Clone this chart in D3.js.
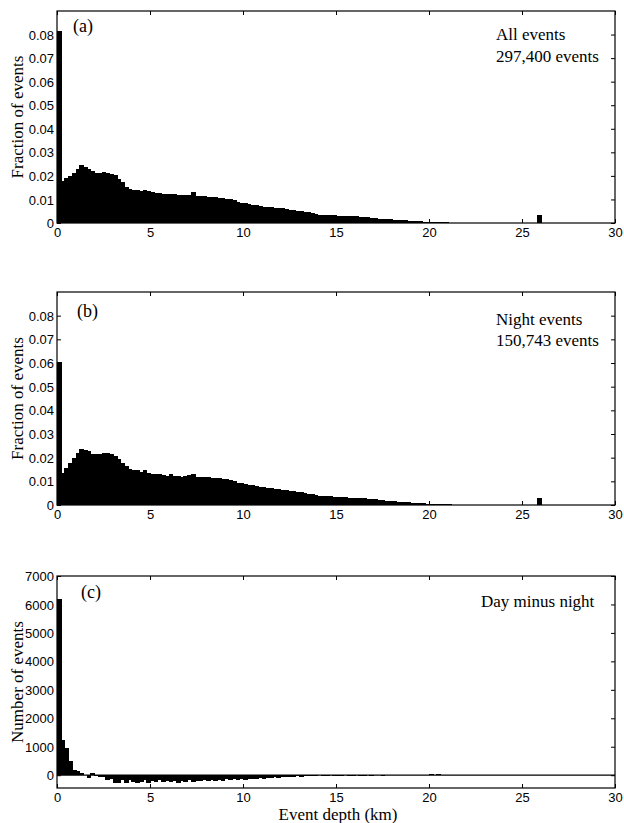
<!DOCTYPE html>
<html>
<head>
<meta charset="utf-8">
<script src="https://cdn.jsdelivr.net/npm/d3@7"></script>
<style>
	body { margin: 0; background: #fff; }
	svg { display: block; }
	.tick text { font-family: "Liberation Sans", Arial, sans-serif; font-size: 13px; fill: #000; }
	.serif { font-family: "Liberation Serif", "Times New Roman", serif; fill: #000; }
</style>
</head>
<body>
<svg id="chart" width="624" height="823"></svg>
<script>
// bin width of the depth histograms (km)
const binWidth = 0.2;

const depthTicks = [0, 5, 10, 15, 20, 25, 30];
const fracTicks = [0, 0.01, 0.02, 0.03, 0.04, 0.05, 0.06, 0.07, 0.08];
const countTicks = [0, 1000, 2000, 3000, 4000, 5000, 6000, 7000];

// (a) all events, fraction per 0.2 km bin
const allFrac = [
	0.0815, 0.0179, 0.0193, 0.0200, 0.0214, 0.0229, 0.0246, 0.0238, 0.0229, 0.0221,
	0.0214, 0.0213, 0.0217, 0.0214, 0.0207, 0.0203, 0.0186, 0.0174, 0.0154, 0.0143,
	0.0139, 0.0139, 0.0136, 0.0141, 0.0134, 0.0130, 0.0129, 0.0126, 0.0124, 0.0122,
	0.0121, 0.0121, 0.0120, 0.0119, 0.0118, 0.0118, 0.0131, 0.0114, 0.0113, 0.0113,
	0.0112, 0.0111, 0.0110, 0.0108, 0.0106, 0.0104, 0.0100, 0.0096, 0.0090, 0.0086,
	0.0084, 0.0080, 0.0078, 0.0077, 0.0074, 0.0070, 0.0068, 0.0067, 0.0065, 0.0063,
	0.0062, 0.0060, 0.0057, 0.0055, 0.0053, 0.0050, 0.0047, 0.0045, 0.0043, 0.0040,
	0.0036, 0.0034, 0.0033, 0.0033, 0.0032, 0.0031, 0.0031, 0.0030, 0.0029, 0.0029,
	0.0028, 0.0027, 0.0026, 0.0024, 0.0022, 0.0020, 0.0018, 0.0017, 0.0016, 0.0015,
	0.0014, 0.0013, 0.0012, 0.0011, 0.0010, 0.0009, 0.0008, 0.0007, 0.0006, 0.0005,
	0.0005, 0.0004, 0.0004, 0.0003, 0.0003, 0.0002, 0.0002, 0.0002, 0.0002, 0.0001,
	0.0001, 0.0001, 0.0001, 0.0001, 0.0001, 0.0001, 0.0001, 0.0001, 0.0001, 0.0001,
	0.0001, 0.0001, 0.0001, 0.0001, 0, 0, 0, 0, 0, 0.0032,
	0, 0, 0, 0, 0, 0, 0, 0, 0, 0,
	0, 0, 0, 0, 0, 0, 0, 0, 0, 0
];

// (b) night events
const nightFrac = [
	0.0603, 0.0136, 0.0157, 0.0179, 0.0200, 0.0221, 0.0236, 0.0231, 0.0229, 0.0214,
	0.0214, 0.0217, 0.0221, 0.0221, 0.0214, 0.0207, 0.0193, 0.0179, 0.0164, 0.0153,
	0.0146, 0.0146, 0.0140, 0.0146, 0.0136, 0.0133, 0.0131, 0.0129, 0.0128, 0.0124,
	0.0129, 0.0122, 0.0121, 0.0120, 0.0121, 0.0126, 0.0131, 0.0119, 0.0118, 0.0117,
	0.0117, 0.0116, 0.0115, 0.0113, 0.0111, 0.0108, 0.0104, 0.0100, 0.0095, 0.0092,
	0.0089, 0.0086, 0.0084, 0.0081, 0.0078, 0.0075, 0.0073, 0.0071, 0.0069, 0.0066,
	0.0064, 0.0062, 0.0060, 0.0058, 0.0056, 0.0053, 0.0050, 0.0048, 0.0046, 0.0043,
	0.0040, 0.0038, 0.0037, 0.0036, 0.0035, 0.0034, 0.0033, 0.0032, 0.0031, 0.0031,
	0.0030, 0.0029, 0.0028, 0.0026, 0.0025, 0.0024, 0.0022, 0.0020, 0.0018, 0.0017,
	0.0015, 0.0014, 0.0013, 0.0012, 0.0011, 0.0010, 0.0009, 0.0008, 0.0007, 0.0006,
	0.0005, 0.0005, 0.0004, 0.0004, 0.0003, 0.0003, 0.0002, 0.0002, 0.0002, 0.0001,
	0.0001, 0.0001, 0.0001, 0.0001, 0.0001, 0.0001, 0.0001, 0.0001, 0.0001, 0.0001,
	0.0001, 0.0001, 0.0001, 0.0001, 0, 0, 0, 0, 0, 0.0030,
	0, 0, 0, 0, 0, 0, 0, 0, 0, 0,
	0, 0, 0, 0, 0, 0, 0, 0, 0, 0
];

// (c) day minus night, number of events
const dayMinusNight = [
	6200, 1230, 940, 500, 180, 140, 60, 20, -110, 80,
	-20, -60, -80, -170, -120, -280, -260, -180, -270, -180,
	-240, -290, -230, -180, -260, -200, -230, -170, -250, -190,
	-240, -200, -260, -190, -230, -180, -250, -200, -220, -180,
	-210, -170, -200, -160, -190, -150, -180, -140, -170, -130,
	-180, -140, -120, -150, -110, -130, -90, -110, -80, -100,
	-70, -60, -50, -70, -40, -50, -30, -40, -20, -30,
	-10, -20, -30, -10, -20, -30, -20, -10, -30, -20,
	-10, -20, -40, -10, -20, -10, 0, -20, -10, 0,
	-10, 10, 0, -10, 0, 10, 0, 10, 20, 20,
	30, 20, 30, 20, 10, 10, 10, 0, 10, 0,
	0, 0, 0, 0, 0, 0, 0, 0, 0, 0,
	0, 0, 0, 0, 0, 0, 0, 0, 0, 0,
	0, 0, 0, 0, 0, 0, 0, 0, 0, 0,
	0, 0, 0, 0, 0, 0, 0, 0, 0, 0
];

const panels = [
	{values: allFrac, domain: [0, 0.09], ticks: fracTicks, top: 11, bottom: 223,
		ylabel: "Fraction of events", tag: "(a)", tagPos: [73, 32],
		notes: ["All events", "297,400 events"], notePos: [496, 40], noteGap: 22},
	{values: nightFrac, domain: [0, 0.09], ticks: fracTicks, top: 292, bottom: 505,
		ylabel: "Fraction of events", tag: "(b)", tagPos: [77, 317],
		notes: ["Night events", "150,743 events"], notePos: [496, 325], noteGap: 21},
	{values: dayMinusNight, domain: [-450, 7000], ticks: countTicks, top: 576, bottom: 788,
		ylabel: "Number of events", tag: "(c)", tagPos: [81, 598],
		notes: ["Day minus night"], notePos: [481, 607], noteGap: 0}
];

let svg = d3.select("#chart");
let left = 57, right = 615;

let scaleX = d3.scaleLinear().domain([0, 30]).range([left, right]);
let binPx = scaleX(binWidth) - scaleX(0);

panels.forEach(function(p){
	let scaleY = d3.scaleLinear().domain(p.domain).range([p.bottom, p.top]);
	let g = svg.append("g");

	let bins = p.values.map((v, i) => ({depth: i * binWidth, value: v}));

	g.selectAll("rect.bar")
		.data(bins)
		.join("rect")
		.attr("class", "bar")
		.attr("x", d => scaleX(d.depth))
		.attr("width", binPx + 1)
		.attr("y", d => scaleY(Math.max(d.value, 0)))
		.attr("height", d => Math.abs(scaleY(d.value) - scaleY(0)))
		.attr("fill", "#000")
		.attr("shape-rendering", "crispEdges");

	if (p.domain[0] < 0){
		g.append("line")
			.attr("x1", left).attr("x2", right)
			.attr("y1", scaleY(0)).attr("y2", scaleY(0))
			.attr("stroke", "#000").attr("stroke-width", 1.2);
	}

	// axes, ticks pointing inward like matlab
	let fmt = p.domain[1] < 1 ? (d => d === 0 ? "0" : d3.format(".2f")(d)) : d3.format("d");

	let axL = g.append("g").attr("transform", "translate(" + left + ",0)")
		.call(d3.axisLeft(scaleY).tickValues(p.ticks).tickSize(-4).tickPadding(3).tickFormat(fmt));
	let axR = g.append("g").attr("transform", "translate(" + right + ",0)")
		.call(d3.axisRight(scaleY).tickValues(p.ticks).tickSize(-4).tickFormat(""));
	let axB = g.append("g").attr("transform", "translate(0," + p.bottom + ")")
		.call(d3.axisBottom(scaleX).tickValues(depthTicks).tickSize(-4).tickPadding(5));
	let axT = g.append("g").attr("transform", "translate(0," + p.top + ")")
		.call(d3.axisTop(scaleX).tickValues(depthTicks).tickSize(-4).tickFormat(""));

	[axL, axR, axB, axT].forEach(a => {
		a.select(".domain").remove();
		a.selectAll(".tick line").attr("stroke", "#000");
	});
	axL.selectAll(".tick text").attr("dy", "0.35em");

	g.append("rect")
		.attr("x", left).attr("y", p.top)
		.attr("width", right - left).attr("height", p.bottom - p.top)
		.attr("fill", "none").attr("stroke", "#000").attr("stroke-width", 1.2);

	g.append("text")
		.attr("class", "serif")
		.attr("transform", "translate(17," + (p.top + p.bottom) / 2 + ") rotate(-90)")
		.attr("text-anchor", "middle")
		.attr("dy", "0.35em")
		.style("font-size", "17px")
		.text(p.ylabel);

	g.append("text")
		.attr("class", "serif")
		.attr("x", p.tagPos[0]).attr("y", p.tagPos[1])
		.style("font-size", "18px")
		.text(p.tag);

	g.selectAll("text.note")
		.data(p.notes)
		.join("text")
		.attr("class", "note serif")
		.attr("x", p.notePos[0])
		.attr("y", (d, i) => p.notePos[1] + i * p.noteGap)
		.style("font-size", "17px")
		.text(d => d);
});

svg.append("text")
	.attr("class", "serif")
	.attr("x", 338).attr("y", 820)
	.attr("text-anchor", "middle")
	.style("font-size", "17px")
	.text("Event depth (km)");
</script>
</body>
</html>
